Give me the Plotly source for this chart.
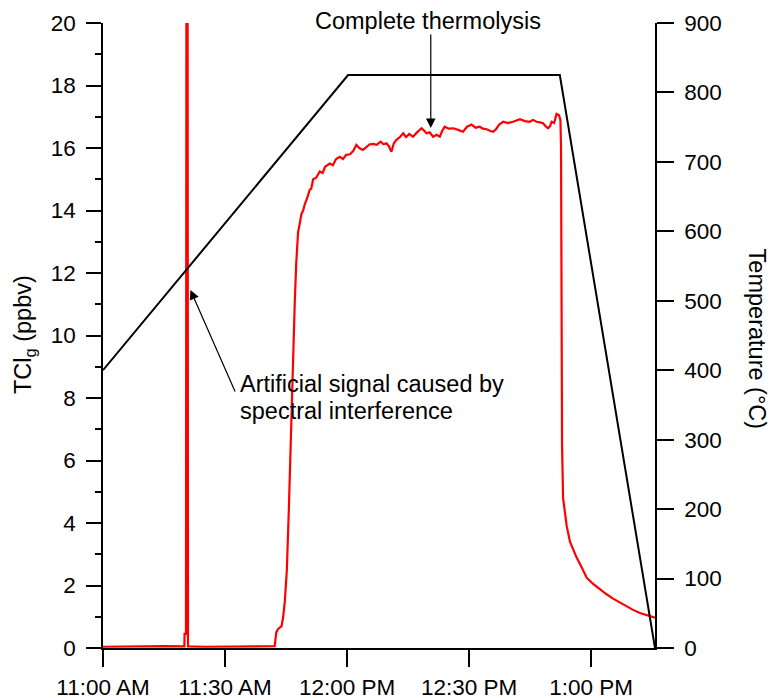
import plotly.graph_objects as go

# ---- data (minutes after 11:00 AM) ----
tcl_minutes = [0, 5, 10, 15, 20.0, 20.05, 20.4, 20.5, 20.8, 20.9, 25, 30, 35, 40, 42.2,
               42.6, 43.0, 43.9, 44.3, 44.7, 45.2, 45.7, 46.2, 46.65, 47.15, 47.5, 47.95,
               48.4, 48.8, 49.2, 49.6, 50.2, 50.8, 51.2, 51.65, 52.4, 53.3, 54.0, 54.6,
               55.75, 56.5, 57.3, 58.2, 59.0, 59.8, 60.7, 61.5, 62.3, 63.0, 63.9, 64.8,
               65.6, 66.4, 67.3, 68.2, 69.0, 69.7, 70.3, 70.9, 71.5, 72.15, 73.0, 73.8,
               74.5, 75.3, 76.2, 77.2, 78.3, 79.0, 79.5, 80.3, 81.15, 82.0, 82.8, 83.4,
               84.0, 85.0, 86.1, 87.3, 88.5, 89.5, 90.6, 91.6, 92.6, 93.4, 94.3, 95.1,
               95.9, 96.6, 97.4, 98.4, 99.6, 100.8, 101.6, 102.5, 103.7, 104.9, 105.7,
               106.6, 107.4, 108.2, 108.8, 109.4, 109.9, 110.3, 110.9, 111.5, 112.1,
               112.45, 112.6, 112.7, 112.85, 113.1, 113.5, 114.0, 114.8, 116.4, 117.6,
               118.9, 120.5, 122.1, 123.8, 125.4, 127.0, 128.7, 130.3, 132.0, 133.6,
               135.2, 135.7]
tcl_ppbv = [0.04, 0.05, 0.04, 0.06, 0.05, 0.45, 0.45, 20.0, 20.0, 0.05, 0.04, 0.05, 0.04,
            0.05, 0.06, 0.5, 0.6, 0.7, 1.0, 1.5, 2.5, 4.5, 7.0, 9.2, 11.1, 12.3, 13.3,
            13.6, 13.9, 14.0, 14.2, 14.4, 14.66, 14.7, 15.0, 15.05, 15.25, 15.2, 15.4,
            15.5, 15.45, 15.65, 15.72, 15.65, 15.78, 15.8, 15.9, 16.1, 16.0, 15.94, 16.05,
            16.12, 16.13, 16.1, 16.2, 16.12, 16.15, 16.05, 15.88, 16.15, 16.26, 16.35,
            16.47, 16.35, 16.45, 16.36, 16.5, 16.63, 16.55, 16.47, 16.5, 16.36, 16.42,
            16.36, 16.55, 16.68, 16.62, 16.63, 16.58, 16.52, 16.68, 16.75, 16.65, 16.68,
            16.62, 16.6, 16.55, 16.52, 16.6, 16.75, 16.84, 16.8, 16.84, 16.88, 16.92,
            16.86, 16.84, 16.9, 16.84, 16.82, 16.79, 16.7, 16.63, 16.7, 16.84, 16.8,
            17.09, 17.05, 16.9, 16.0, 9.5, 6.5, 4.8, 4.4, 3.9, 3.4, 2.9, 2.6, 2.25, 2.05,
            1.88, 1.72, 1.58, 1.46, 1.35, 1.22, 1.12, 1.05, 1.0, 0.97]

temp_minutes = [0, 60.25, 112.3, 135.7]
temp_celsius = [400, 825, 825, 0]

x_tickvals = [0, 30, 60, 90, 120]
x_ticktext = ["11:00 AM", "11:30 AM", "12:00 PM", "12:30 PM", "1:00 PM"]

FONT = "Liberation Sans, Arial, sans-serif"

fig = go.Figure()
fig.add_trace(go.Scatter(x=tcl_minutes, y=tcl_ppbv, mode="lines",
                         line=dict(color="#ff0000", width=2.2), yaxis="y"))
fig.add_trace(go.Scatter(x=temp_minutes, y=temp_celsius, mode="lines",
                         line=dict(color="#000000", width=2), yaxis="y2"))

fig.update_layout(
    width=774, height=698,
    margin=dict(l=103, r=119, t=23, b=50, autoexpand=False),
    plot_bgcolor="white", paper_bgcolor="white",
    showlegend=False,
    font=dict(family=FONT, size=22.5, color="black"),
    xaxis=dict(range=[0, 135.7], tickvals=x_tickvals, ticktext=x_ticktext,
               showgrid=False, zeroline=False, showline=True, linecolor="black",
               linewidth=1.5, ticks="outside", ticklen=17, tickwidth=1.5,
               tickcolor="black", ticklabelstandoff=1, automargin=False),
    yaxis=dict(range=[0, 20], dtick=2, showgrid=False, zeroline=False,
               showline=True, linecolor="black", linewidth=1.5,
               ticks="outside", ticklen=15, tickwidth=1.5, tickcolor="black",
               ticklabelstandoff=6, automargin=False,
               minor=dict(dtick=1, ticks="outside", ticklen=6, tickwidth=1.5,
                          tickcolor="black", showgrid=False)),
    yaxis2=dict(range=[0, 900], dtick=100, overlaying="y", side="right",
                anchor="x", showgrid=False, zeroline=False, showline=True,
                linecolor="black", linewidth=1.5, ticks="outside", ticklen=17,
                tickwidth=1.5, tickcolor="black", ticklabelstandoff=6,
                automargin=False),
)

ann_font = dict(family=FONT, size=23.5, color="black")
annotations = [
    # axis titles
    dict(text="TCl<sub>g</sub> (ppbv)", xref="paper", yref="paper", x=-0.1431, y=0.5008,
         textangle=-90, showarrow=False, font=ann_font, xanchor="center", yanchor="middle"),
    dict(text="Temperature (°C)", xref="paper", yref="paper", x=1.1848, y=0.495,
         textangle=90, showarrow=False, font=ann_font, xanchor="center", yanchor="middle"),
    # labels
    dict(text="Complete thermolysis", xref="paper", yref="paper", x=0.5888, y=1.0032,
         showarrow=False, font=ann_font, xanchor="center", yanchor="middle"),
    dict(text="", x=80.58, y=16.64, xref="x", yref="y", ax=80.58, ay=19.68,
         axref="x", ayref="y", showarrow=True, arrowhead=2, arrowsize=1.6,
         arrowwidth=1.2, arrowcolor="black"),
    dict(text="Artificial signal caused by", x=33.18, y=8.45, xref="x", yref="y",
         showarrow=False, font=ann_font, xanchor="left", yanchor="middle"),
    dict(text="spectral interference", x=33.18, y=7.58, xref="x", yref="y",
         showarrow=False, font=ann_font, xanchor="left", yanchor="middle"),
    dict(text="", x=21.49, y=11.46, xref="x", yref="y", ax=32.63, ay=8.16,
         axref="x", ayref="y", showarrow=True, arrowhead=2, arrowsize=1.6,
         arrowwidth=1.2, arrowcolor="black"),
]
fig.update_layout(annotations=annotations)

fig.write_html("out.html", config={"displayModeBar": False},
               post_script="document.body.style.margin='0';document.body.style.padding='0';")
